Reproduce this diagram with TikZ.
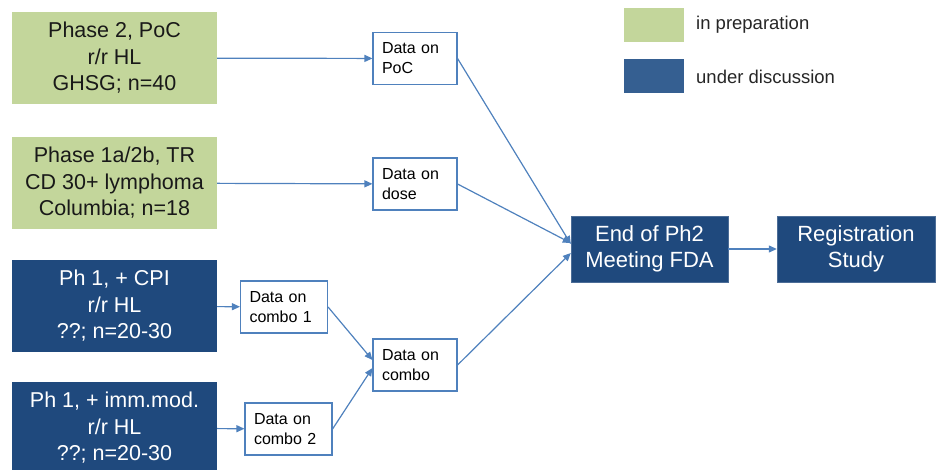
\documentclass[tikz,border=0pt]{standalone}
\usepackage{fontspec}
\setmainfont{Liberation Sans}
\usepackage{xcolor}
\usepackage{tikz}
\usetikzlibrary{arrows.meta,positioning}
\definecolor{prepgreen}{HTML}{C3D69B}
\definecolor{discblue}{HTML}{1F497D}
\definecolor{legblue}{HTML}{355F91}
\definecolor{linkblue}{HTML}{4F81BD}

\begin{document}
\begin{tikzpicture}[x=1pt, y=-1pt,
  trial/.style={minimum width=205pt, minimum height=92pt, align=center, inner sep=2pt,
    font=\fontsize{21.5}{26.5}\selectfont},
  prep/.style={trial, fill=prepgreen, text=black!90},
  disc/.style={trial, fill=discblue, text=white},
  data/.style={draw=linkblue, line width=1.1pt, fill=white, minimum width=84pt, minimum height=52pt,
    align=left, text width=66pt, inner sep=0pt, font=\fontsize{16}{20}\selectfont},
  milestone/.style={fill=discblue, draw=discblue!80, text=white, minimum width=157pt, minimum height=66pt,
    align=center, font=\fontsize{22}{26.5}\selectfont},
  swatch/.style={minimum width=60pt, minimum height=34pt, inner sep=0pt},
  legtext/.style={anchor=west, inner sep=0pt, font=\fontsize{18.5}{22}\selectfont, text=black!85},
  link/.style={draw=linkblue, line width=1.2pt, -{Triangle[length=8pt,width=7pt]}}]
\useasboundingbox (0,0) rectangle (941,470);

% studies
\node[prep] (poc-study) at (114.5,58) {Phase 2, PoC\\r/r HL\\GHSG; n=40};
\node[prep] (dose-study) at (114.5,183) {Phase 1a/2b, TR\\CD 30+ lymphoma\\Columbia; n=18};
\node[disc] (cpi-study) at (114.5,306) {Ph 1, + CPI\\r/r HL\\??; n=20-30};
\node[disc] (imm-study) at (114.5,428) {Ph 1, + imm.mod.\\r/r HL\\??; n=20-30};

% data read-outs
\node[data] (poc) at (415,58.5) {Data on\\PoC};
\node[data] (dose) at (415,184) {Data on\\dose};
\node[data, minimum width=87pt, text width=69pt] (combo1) at (284,307) {Data on\\combo 1};
\node[data, minimum width=87pt, text width=69pt] (combo2) at (288.5,429) {Data on\\combo 2};
\node[data] (combo) at (415,365) {Data on\\combo};

% milestones
\node[milestone] (eop2) at (649.5,249) {End of Ph2\\Meeting FDA};
\node[milestone, minimum width=158pt] (reg) at (856,249) {Registration\\Study};

% legend
\node[swatch, fill=prepgreen] (leg-prep) at (654,25.5) {};
\node[legtext] at (696,25) {in preparation};
\node[swatch, fill=legblue] (leg-disc) at (654,76.5) {};
\node[legtext] at (696,77) {under discussion};

\draw[link] (poc-study) -- (poc);
\draw[link] (dose-study) -- (dose);
\draw[link] (cpi-study) -- (combo1);
\draw[link] (imm-study) -- (combo2);
\draw[link] (combo1.east) -- ([yshift=5pt]combo.west);
\draw[link] (combo2.east) -- ([yshift=-3pt]combo.west);
\draw[link] (poc.east) -- ([yshift=5pt]eop2.west);
\draw[link] (dose.east) -- ([yshift=6pt]eop2.west);
\draw[link] (combo.east) -- ([yshift=-4pt]eop2.west);
\draw[link] (eop2) -- (reg);
\end{tikzpicture}
\end{document}
